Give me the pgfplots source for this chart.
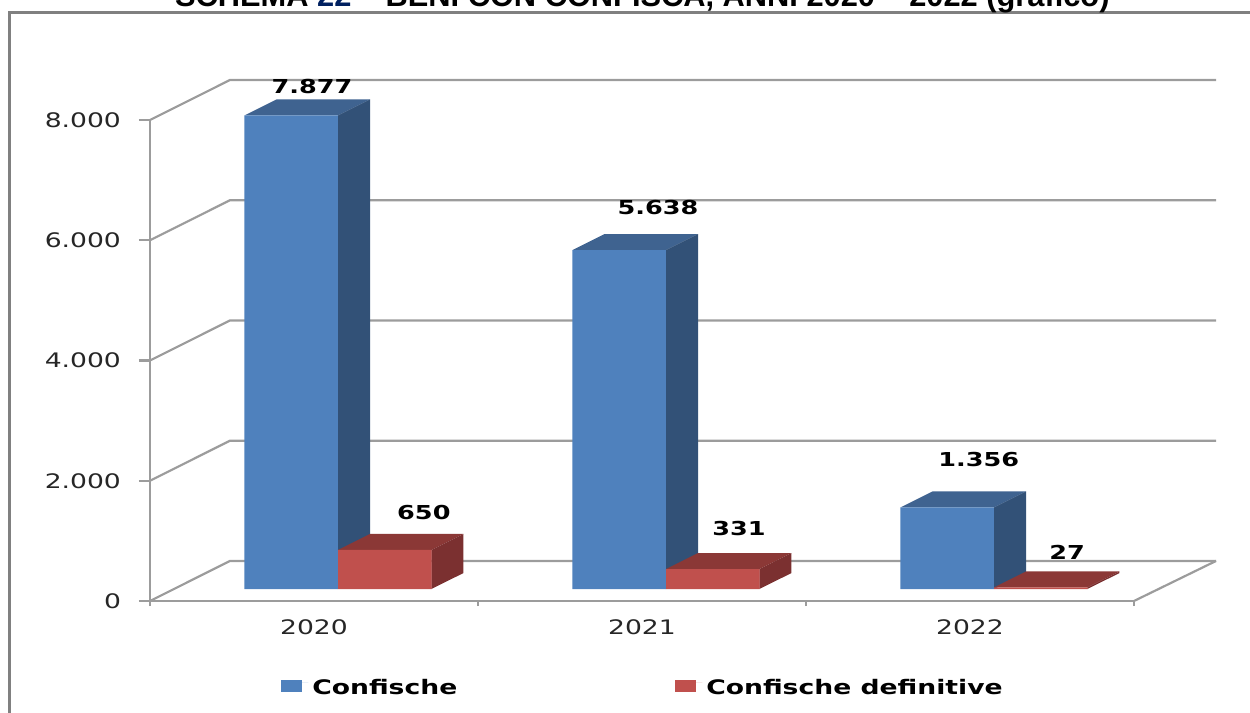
\documentclass[border=0pt]{standalone}
\usepackage{fontspec}
\setmainfont{DejaVu Sans}[FakeStretch=1.33]
\newfontfamily\titlefont{Liberation Sans}
\usepackage{pgfplots}
\usepackage{pgfplotstable}
\pgfplotsset{compat=1.18}

\definecolor{bluefront}{HTML}{4F81BD}
\definecolor{blueside}{HTML}{325177}
\definecolor{bluetop}{HTML}{3F6390}
\definecolor{redfront}{HTML}{C0504D}
\definecolor{redside}{HTML}{7B3030}
\definecolor{redtop}{HTML}{8B3836}
\definecolor{axisgray}{HTML}{9C9C9C}
\definecolor{framegray}{HTML}{808080}
\definecolor{titleblue}{HTML}{002060}

\pgfplotstableread{
x conf def
0 7877 650
1 5638 331
2 1356 27
}\beni

% label positions are where the labels sit in the picture, not the bar tops
\pgfplotstableread{
x y lab
-0.006 8552 7.877
1.049 6539 5.638
2.027 2346 1.356
0.335 1464 650
1.296 1198 331
2.296 815 27
}\etichette

% top and side face of one bar: left edge, right edge, value, colours
\newcommand{\facce}[5]{%
  \pgfmathsetmacro{\xa}{#1}%
  \pgfmathsetmacro{\xb}{#2}%
  \pgfmathsetmacro{\xc}{\xa+0.0976}%
  \pgfmathsetmacro{\xd}{\xb+0.0976}%
  \pgfmathsetmacro{\vt}{#3+266}%
  \edef\temp{\noexpand\addplot[barra,fill=#4] coordinates {(\xa,#3) (\xb,#3) (\xd,\vt) (\xc,\vt)} --cycle;
    \noexpand\addplot[barra,fill=#5] coordinates {(\xb,0) (\xb,#3) (\xd,\vt) (\xd,266)} --cycle;}%
  \temp}

% back wall lines
\newcommand{\parete}[1]{%
  \pgfmathsetmacro{\vt}{#1+666}%
  \edef\temp{\noexpand\addplot[muro] coordinates {(-0.5,#1) (-0.2561,\vt) (2.75,\vt)};}%
  \temp}

\begin{document}
\begin{tikzpicture}
\path[use as bounding box,clip] (-75pt,-56pt) rectangle (550pt,300.5pt);
\draw[framegray,line width=1.5pt] (-70pt,-60pt) -- (-70pt,294pt) -- (555pt,294pt);
\node[anchor=base,inner sep=0pt,font=\titlefont\bfseries\fontsize{15.4}{18}\selectfont]
  at (246.2pt,297pt) {SCHEMA \textcolor{titleblue}{22} – BENI CON CONFISCA, ANNI 2020 – 2022 (grafico)};
\begin{axis}[
  width=492pt, height=240.5pt, scale only axis,
  xmin=-0.5, xmax=2.5, ymin=0, ymax=8000,
  clip=false,
  axis lines=left, axis line style={draw=axisgray,line width=1.1pt,-},
  xtick={0,1,2}, xticklabels={2020,2021,2022},
  minor xtick={-0.5,0.5,1.5,2.5},
  major x tick style={draw=none},
  minor x tick style={draw=axisgray,line width=1.1pt},
  minor tick length=2.5pt,
  ytick={0,2000,4000,6000,8000},
  y tick style={draw=axisgray,line width=1.1pt},
  major tick length=5.5pt, tick align=outside,
  scaled y ticks=false,
  /pgf/number format/.cd, 1000 sep={.}, assume math mode=true, /pgfplots/.cd,
  tick label style={font=\fontsize{10}{12}\selectfont,text=black!85},
  x tick label style={yshift=-0.5pt},
  y tick label style={xshift=-5.5pt},
  barra/.style={draw=none,forget plot,xshift=12pt,yshift=6pt},
  muro/.style={draw=axisgray,line width=1.1pt,forget plot},
  fronte/.style={ybar,draw=none,bar width=46.75pt,xshift=12pt,yshift=6pt},
  legend style={at={(axis description cs:0.133,-0.181)},anchor=west,draw=none,fill=none,
    inner sep=0pt,legend columns=2,font=\bfseries\fontsize{10}{12}\selectfont,
    /tikz/every even column/.append style={column sep=107pt},
    legend cell align=left},
]
\parete{0}
\parete{2000}
\parete{4000}
\parete{6000}
\parete{8000}
\addplot[muro] coordinates {(2.5,0) (2.75,666)};

\facce{-0.285}{0}{7877}{bluetop}{blueside}
\facce{0.715}{1}{5638}{bluetop}{blueside}
\facce{1.715}{2}{1356}{bluetop}{blueside}
\addplot[fronte,fill=bluefront,bar shift=-23.4pt,
  legend image code/.code={\fill[bluefront] (0pt,-8.2pt) rectangle (10.5pt,-2.2pt);\path (0pt,-3pt) -- (13.5pt,-3pt);}]
  table[x=x,y=conf] {\beni};
\addlegendentry{Confische}

\facce{0}{0.285}{650}{redtop}{redside}
\facce{1}{1.285}{331}{redtop}{redside}
\facce{2}{2.285}{27}{redtop}{redside}
\addplot[fronte,fill=redfront,bar shift=23.4pt,
  legend image code/.code={\fill[redfront] (0pt,-8.2pt) rectangle (10.5pt,-2.2pt);\path (0pt,-3pt) -- (13.5pt,-3pt);}]
  table[x=x,y=def] {\beni};
\addlegendentry{Confische definitive}

\addplot[only marks,mark=none,forget plot,point meta=explicit symbolic,
  nodes near coords,
  nodes near coords style={anchor=center,inner sep=0pt,text=black,font=\bfseries\fontsize{9.6}{11}\selectfont}]
  table[x=x,y=y,meta=lab] {\etichette};
\end{axis}
\end{tikzpicture}
\end{document}
